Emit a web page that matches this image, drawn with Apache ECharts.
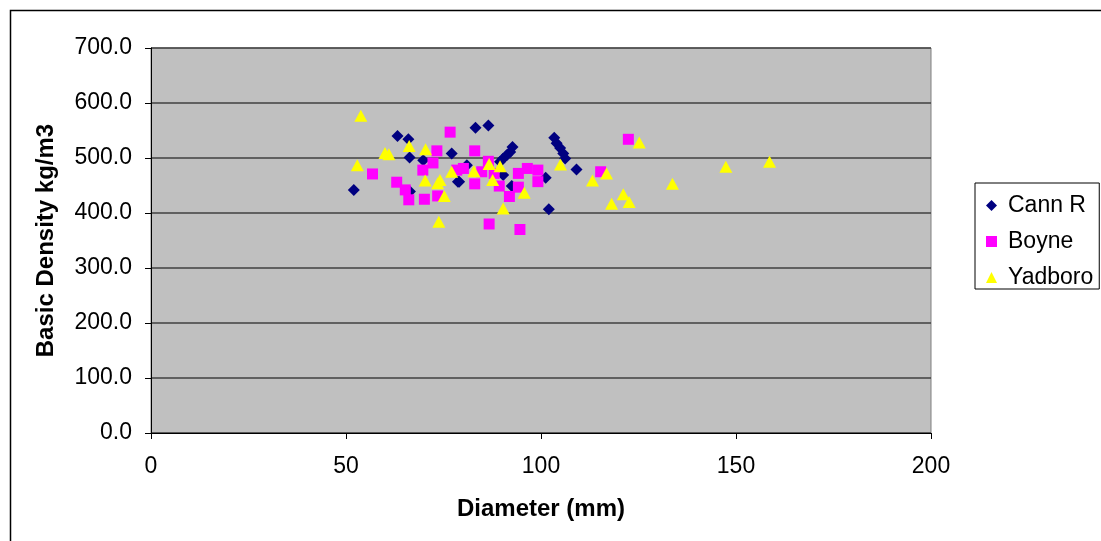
<!DOCTYPE html>
<html lang="en">
<head>
    <meta charset="UTF-8">
    <title>Basic Density vs Diameter</title>
    <script src="https://cdn.jsdelivr.net/npm/echarts/dist/echarts.min.js"></script>
    <style>
        body { margin: 0; background: #fff; }
        #chart { width: 1101px; height: 541px; }
    </style>
</head>
<body>
<div id="chart"></div>
<script>
    // [diameter mm, basic density kg/m3]
    var cannR = [
        [52.0, 442], [63.2, 540], [66.0, 534], [66.3, 501], [69.8, 496], [66.4, 439],
        [77.1, 508], [78.7, 457], [79.0, 457], [81.0, 487], [83.2, 555], [86.5, 559],
        [92.7, 520], [92.1, 511], [91.2, 505], [90.3, 499], [89.5, 493], [90.3, 469],
        [92.5, 449], [101.2, 464], [102.0, 407], [103.4, 537], [104.0, 527], [104.9, 518],
        [105.7, 508], [106.2, 499], [109.1, 479]
    ];
    var boyne = [
        [56.8, 471], [63.0, 456], [65.2, 442], [66.1, 424], [69.7, 478], [70.1, 425],
        [72.3, 491], [73.3, 513], [73.5, 431], [76.7, 547], [78.4, 478], [80.1, 481],
        [83.0, 513], [83.0, 453], [84.8, 475], [86.5, 494], [86.7, 380], [88.0, 472],
        [89.3, 449], [91.9, 430], [94.2, 472], [94.2, 447], [94.6, 370], [96.5, 481],
        [99.2, 478], [99.2, 457], [115.3, 475], [122.4, 534]
    ];
    var yadboro = [
        [52.9, 487], [53.8, 577], [60.0, 509], [61.0, 507], [66.2, 522], [70.4, 516],
        [70.3, 459], [73.5, 454], [74.1, 460], [73.8, 384], [75.2, 431], [77.1, 475],
        [82.8, 476], [86.7, 489], [87.6, 460], [89.5, 485], [90.3, 408], [95.7, 437],
        [105.0, 488], [113.2, 459], [116.8, 472], [118.1, 417], [121.1, 434], [122.6, 420],
        [125.2, 528], [133.7, 453], [147.4, 484], [158.6, 493]
    ];

    var chart = echarts.init(document.getElementById('chart'));
    var font = 'Liberation Sans, Arial, sans-serif';

    chart.setOption({
        animation: false,
        textStyle: { fontFamily: font },
        graphic: [{
            type: 'rect',
            shape: { x: 10.5, y: 10.5, width: 1200, height: 600 },
            style: { fill: 'none', stroke: '#000', lineWidth: 1.5 },
            silent: true
        }],
        grid: {
            left: 151, top: 48, width: 780, height: 385,
            show: true, backgroundColor: '#c0c0c0', borderColor: '#808080', borderWidth: 1
        },
        legend: {
            orient: 'vertical',
            left: 975, top: 183,
            padding: [11, 6, 0, 11],
            itemGap: 13,
            itemWidth: 11, itemHeight: 11,
            borderColor: '#000', borderWidth: 1,
            textStyle: { fontSize: 23, lineHeight: 23, color: '#000', fontFamily: font, padding: [0, 0, 0, 6] },
            data: [
                { name: 'Cann R', icon: 'diamond' },
                { name: 'Boyne', icon: 'rect' },
                { name: 'Yadboro', icon: 'triangle' }
            ]
        },
        xAxis: {
            type: 'value', min: 0, max: 200, interval: 50,
            name: 'Diameter (mm)', nameLocation: 'middle', nameGap: 64,
            nameTextStyle: { fontSize: 24, fontWeight: 'bold', color: '#000', fontFamily: font },
            axisLine: { show: true, lineStyle: { color: '#000', width: 1 } },
            axisTick: { show: true, length: 6, lineStyle: { color: '#000' } },
            axisLabel: { fontSize: 23, color: '#000', margin: 22 },
            splitLine: { show: false }
        },
        yAxis: {
            type: 'value', min: 0, max: 700, interval: 100,
            name: 'Basic Density kg/m3', nameLocation: 'middle', nameGap: 93,
            nameTextStyle: { fontSize: 24, fontWeight: 'bold', color: '#000', fontFamily: font },
            axisLine: { show: true, lineStyle: { color: '#000', width: 1 } },
            axisTick: { show: true, length: 6, lineStyle: { color: '#000' } },
            axisLabel: {
                fontSize: 23, color: '#000', margin: 19,
                formatter: function (v) { return v.toFixed(1); }
            },
            splitLine: { show: true, lineStyle: { color: '#404040', width: 1.5 } }
        },
        series: [
            { name: 'Cann R', type: 'scatter', symbol: 'diamond', symbolSize: 12,
              itemStyle: { color: '#000080', opacity: 1 }, data: cannR },
            { name: 'Boyne', type: 'scatter', symbol: 'rect', symbolSize: 11,
              itemStyle: { color: '#ff00ff', opacity: 1 }, data: boyne },
            { name: 'Yadboro', type: 'scatter', symbol: 'triangle', symbolSize: [13, 12],
              itemStyle: { color: '#ffff00', opacity: 1 }, data: yadboro }
        ]
    });
</script>
</body>
</html>
